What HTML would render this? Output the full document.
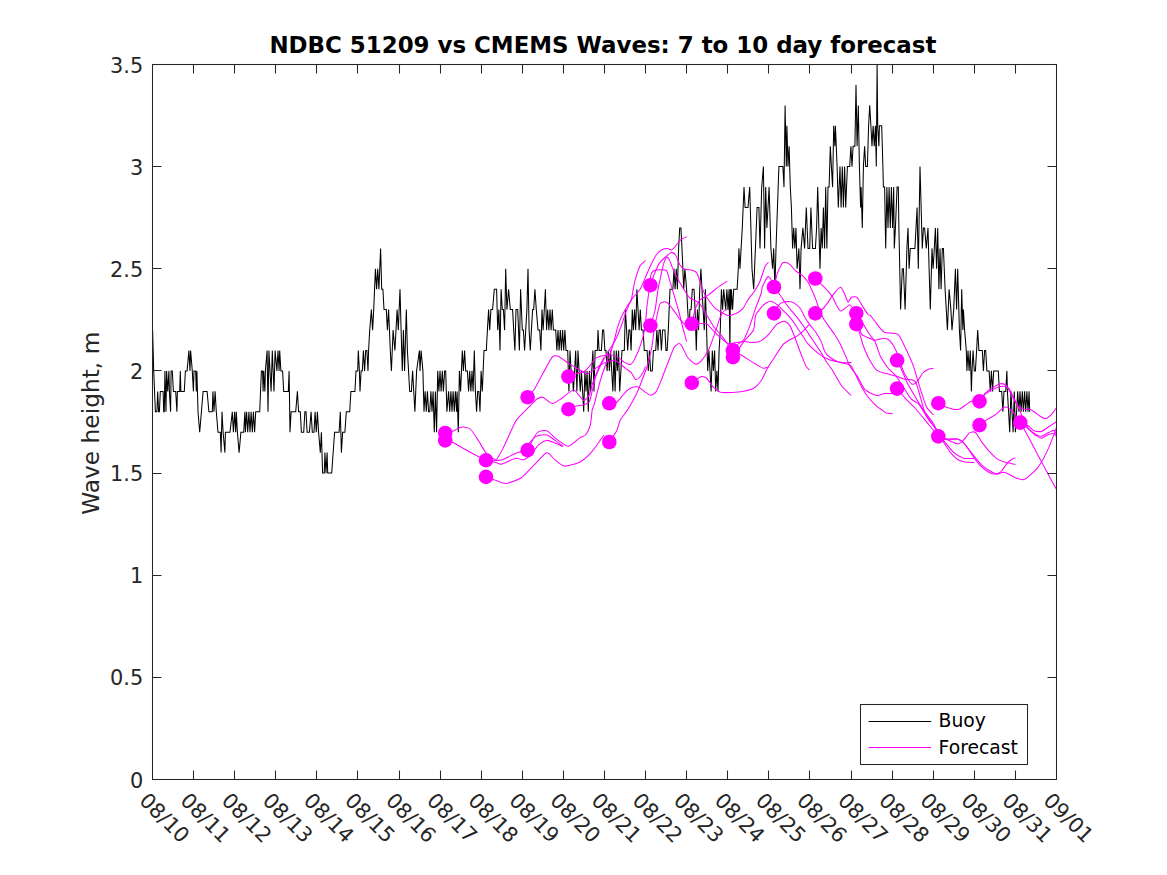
<!DOCTYPE html>
<html lang="en"><head><meta charset="utf-8"><title>NDBC 51209 vs CMEMS Waves: 7 to 10 day forecast</title><style>html,body{margin:0;padding:0;background:#fff;overflow:hidden}svg{display:block}</style></head><body>
<svg width="1167" height="875" viewBox="0 0 1167 875" font-family="'DejaVu Sans', 'Liberation Sans', sans-serif">
<rect width="1167" height="875" fill="#fff"/>
<clipPath id="pc"><rect x="152.5" y="64.5" width="904.0" height="715.0"/></clipPath>
<g clip-path="url(#pc)" fill="none" stroke-linejoin="round">
<path d="M152.6 330.1L153.7 370.9L155.4 411.8L156.9 411.8L157.7 391.4L158.6 411.8L159.4 411.8L160.3 391.4L163.1 391.4L163.7 411.8L164.3 411.8L164.9 370.9L166.0 411.8L166.6 370.9L167.7 391.4L168.9 370.9L169.4 391.4L170.6 411.8L171.1 370.9L172.3 370.9L173.4 391.4L175.7 391.4L176.9 411.8L177.4 391.4L179.7 391.4L180.3 370.9L180.9 391.4L184.3 391.4L185.4 370.9L187.1 370.9L188.9 350.5L190.0 370.9L190.6 350.5L192.3 370.9L193.4 391.4L194.0 370.9L195.7 370.9L196.3 391.4L196.9 370.9L198.0 411.8L199.7 432.2L201.4 411.8L203.1 391.4L207.1 391.4L208.9 411.8L212.3 411.8L212.9 391.4L214.0 411.8L215.1 391.4L216.3 411.8L218.0 432.2L220.3 432.2L221.1 452.6L222.0 411.8L223.1 432.2L224.9 452.6L225.4 432.2L230.0 432.2L232.3 411.8L233.4 432.2L234.6 411.8L235.7 432.2L236.3 411.8L237.4 432.2L239.1 452.6L240.9 432.2L243.7 432.2L244.9 411.8L245.4 432.2L246.6 411.8L247.7 432.2L248.9 411.8L250.0 432.2L251.1 411.8L252.3 432.2L253.4 411.8L254.6 432.2L255.7 411.8L259.7 411.8L261.4 370.9L262.6 370.9L263.1 391.4L263.7 370.9L264.9 391.4L265.4 370.9L267.1 350.5L268.0 411.8L268.9 350.5L270.0 370.9L271.1 391.4L272.3 350.5L274.0 391.4L275.1 350.5L276.9 370.9L278.0 350.5L279.1 370.9L279.7 350.5L280.9 370.9L282.6 370.9L283.7 391.4L288.3 391.4L289.1 370.9L290.0 432.2L291.1 411.8L295.7 411.8L297.4 391.4L298.6 411.8L300.3 411.8L301.4 432.2L303.7 432.2L304.9 411.8L306.0 411.8L307.1 432.2L309.4 432.2L311.1 411.8L312.3 432.2L314.0 432.2L315.1 411.8L316.3 432.2L317.4 411.8L318.6 432.2L320.3 452.6L321.4 432.2L322.6 473.1L324.3 473.1L324.9 452.6L326.0 473.1L327.1 452.6L327.7 473.1L331.7 473.1L334.6 432.2L339.1 432.2L340.3 411.8L341.4 452.6L342.6 432.2L344.9 432.2L346.3 411.8L349.7 411.8L350.9 391.4L354.9 391.4L356.0 370.9L357.7 370.9L358.3 350.5L359.4 370.9L360.0 391.4L361.1 370.9L362.3 370.9L363.4 350.5L364.6 370.9L365.7 350.5L366.9 350.5L368.0 370.9L368.6 350.5L369.7 330.1L371.4 309.6L372.6 330.1L373.7 309.6L375.4 268.8L376.6 289.2L377.7 268.8L378.9 289.2L380.6 248.4L381.7 289.2L382.9 289.2L384.0 309.6L386.3 309.6L387.4 330.1L388.6 309.6L390.3 350.5L391.4 370.9L393.1 330.1L394.9 350.5L396.0 330.1L397.1 309.6L398.3 330.1L400.0 289.2L401.1 330.1L402.3 370.9L403.4 330.1L404.6 370.9L406.3 309.6L407.4 350.5L409.7 391.4L411.4 391.4L412.6 370.9L414.9 411.8L416.6 370.9L419.4 350.5L420.0 370.9L421.1 350.5L422.9 370.9L424.0 411.8L425.1 391.4L426.3 411.8L427.4 391.4L428.6 411.8L429.7 411.8L430.9 391.4L432.0 411.8L433.1 391.4L434.3 432.2L435.4 391.4L436.6 432.2L437.7 370.9L438.9 391.4L440.0 370.9L441.1 391.4L442.3 370.9L443.4 391.4L444.6 370.9L445.7 370.9L446.9 411.8L448.6 391.4L449.7 411.8L450.9 391.4L452.0 411.8L453.1 391.4L454.3 411.8L455.4 391.4L456.6 411.8L457.1 391.4L458.3 432.2L459.4 370.9L460.6 391.4L462.3 350.5L463.4 370.9L464.6 350.5L465.7 370.9L467.4 370.9L468.6 391.4L469.7 370.9L470.9 391.4L472.0 370.9L473.1 391.4L474.3 350.5L475.4 391.4L476.6 411.8L477.7 391.4L478.9 391.4L480.0 411.8L481.1 370.9L482.3 391.4L484.0 350.5L486.3 350.5L487.4 330.1L488.6 309.6L489.7 330.1L490.9 309.6L492.6 309.6L494.3 289.2L496.6 289.2L497.7 330.1L498.9 309.6L500.0 350.5L501.1 289.2L502.3 309.6L503.4 309.6L504.6 330.1L505.7 268.8L506.9 309.6L508.6 289.2L510.3 309.6L512.6 309.6L513.7 330.1L514.9 350.5L516.0 309.6L517.7 309.6L519.4 350.5L520.6 289.2L522.3 330.1L523.4 330.1L524.6 350.5L525.7 330.1L526.9 309.6L528.0 268.8L529.1 330.1L530.3 350.5L531.4 330.1L532.6 309.6L533.7 309.6L534.9 289.2L536.3 309.6L538.0 330.1L539.7 330.1L540.9 350.5L542.0 309.6L543.1 330.1L544.3 309.6L545.4 289.2L546.6 330.1L547.7 309.6L548.9 330.1L550.0 309.6L551.1 330.1L552.3 309.6L553.4 330.1L555.7 330.1L556.9 350.5L558.0 330.1L559.1 350.5L560.3 330.1L561.4 350.5L562.6 330.1L563.7 350.5L564.9 330.1L566.0 350.5L567.7 350.5L568.9 391.4L570.0 350.5L571.1 370.9L572.3 370.9L573.4 391.4L574.6 370.9L575.7 350.5L576.9 391.4L578.0 350.5L579.1 370.9L580.3 391.4L581.4 370.9L582.6 391.4L583.7 411.8L584.9 370.9L586.0 391.4L587.1 370.9L588.3 411.8L589.4 370.9L590.6 391.4L591.7 370.9L592.9 350.5L594.0 391.4L595.1 350.5L597.4 350.5L598.0 330.1L599.1 350.5L601.4 350.5L602.6 330.1L603.7 330.1L604.9 350.5L606.0 350.5L607.1 370.9L608.3 350.5L609.4 370.9L610.6 350.5L611.7 370.9L612.9 391.4L614.0 350.5L615.1 391.4L616.3 350.5L617.4 370.9L618.6 350.5L619.7 391.4L620.9 370.9L622.0 350.5L624.3 350.5L625.4 309.6L626.6 330.1L627.7 350.5L628.9 330.1L630.0 330.1L631.1 350.5L632.3 309.6L633.4 330.1L634.6 309.6L635.7 330.1L636.9 289.2L638.0 309.6L639.1 330.1L640.3 309.6L641.4 330.1L643.1 330.1L644.3 350.5L647.1 350.5L648.3 370.9L649.4 350.5L650.6 370.9L652.3 370.9L653.4 350.5L655.7 350.5L656.9 330.1L658.0 350.5L659.1 330.1L660.3 330.1L661.4 350.5L662.6 330.1L664.9 330.1L666.0 350.5L667.1 350.5L668.3 330.1L670.0 289.2L672.9 289.2L674.0 268.8L675.1 289.2L676.3 268.8L677.4 289.2L678.6 248.4L679.7 227.9L680.9 227.9L682.0 248.4L683.7 289.2L684.9 268.8L686.6 289.2L687.7 309.6L688.9 330.1L690.0 309.6L691.1 309.6L692.3 289.2L694.0 289.2L695.1 309.6L696.3 350.5L697.4 309.6L698.6 330.1L699.7 289.2L700.9 268.8L702.0 289.2L703.1 309.6L704.3 330.1L705.4 289.2L706.6 330.1L707.7 370.9L708.9 350.5L710.0 370.9L711.1 391.4L712.3 350.5L713.4 370.9L714.6 350.5L715.7 391.4L716.9 370.9L718.0 391.4L719.1 350.5L720.3 330.1L721.4 289.2L722.6 309.6L723.7 289.2L725.7 309.6L726.9 289.2L728.0 309.6L729.1 289.2L729.9 350.5L730.4 289.2L730.9 309.6L731.4 289.2L732.6 309.6L733.7 289.2L737.1 289.2L738.3 268.8L738.9 248.4L740.0 268.8L741.1 248.4L742.3 227.9L744.0 187.1L745.1 207.5L748.0 207.5L749.7 187.1L750.9 227.9L752.0 268.8L753.7 289.2L755.4 248.4L757.1 207.5L758.9 207.5L760.0 248.4L761.7 187.1L763.4 166.6L764.6 248.4L765.7 187.1L766.9 227.9L768.0 207.5L769.1 187.1L770.9 248.4L772.6 268.8L773.7 248.4L774.9 289.2L776.0 248.4L778.9 166.6L782.9 166.6L784.0 187.1L785.1 105.4L786.3 166.6L786.9 125.8L788.0 166.6L789.1 146.2L790.3 187.1L791.4 207.5L792.6 248.4L793.7 227.9L794.9 248.4L796.0 227.9L797.1 268.8L798.9 248.4L800.0 289.2L801.1 248.4L802.9 227.9L804.6 248.4L806.3 207.5L808.0 248.4L809.7 248.4L810.9 207.5L812.6 248.4L815.4 248.4L816.6 227.9L817.7 187.1L818.9 227.9L820.0 268.8L821.1 227.9L822.3 248.4L823.4 207.5L824.6 248.4L825.7 187.1L826.9 248.4L828.0 187.1L829.1 187.1L830.3 146.2L831.4 166.6L832.6 187.1L833.7 125.8L834.9 146.2L835.4 125.8L837.1 166.6L838.3 207.5L840.0 166.6L841.1 207.5L842.3 166.6L843.4 207.5L844.6 166.6L845.7 207.5L847.4 166.6L849.7 166.6L850.9 146.2L852.0 166.6L853.1 146.2L854.9 146.2L856.0 84.9L857.1 146.2L858.3 105.4L859.4 166.6L860.6 207.5L861.1 187.1L862.3 227.9L863.4 166.6L864.6 146.2L865.7 166.6L867.4 166.6L868.6 125.8L869.7 105.4L870.9 125.8L872.0 146.2L873.1 125.8L874.3 146.2L875.4 125.8L876.3 166.6L877.1 64.5L877.7 125.8L878.9 146.2L879.4 125.8L881.7 125.8L882.9 166.6L883.4 187.1L884.6 187.1L885.7 248.4L886.9 187.1L888.0 227.9L889.1 187.1L890.3 227.9L891.4 187.1L892.6 227.9L893.7 187.1L894.3 248.4L895.4 227.9L897.1 187.1L898.3 187.1L898.9 227.9L900.6 309.6L902.3 268.8L903.4 268.8L905.1 309.6L906.9 248.4L908.0 227.9L909.1 268.8L910.3 248.4L914.9 248.4L916.0 227.9L917.1 207.5L918.3 268.8L920.0 166.6L921.7 227.9L922.3 248.4L923.4 227.9L924.6 227.9L926.3 248.4L928.0 227.9L929.1 268.8L930.3 309.6L932.0 248.4L933.1 268.8L934.3 248.4L935.4 227.9L936.6 268.8L937.7 227.9L938.9 289.2L940.0 248.4L941.1 289.2L942.3 248.4L943.4 248.4L945.1 289.2L946.3 309.6L947.4 330.1L949.1 289.2L950.9 309.6L952.0 330.1L953.7 309.6L955.4 268.8L956.6 309.6L957.7 268.8L959.4 330.1L960.6 350.5L961.7 289.2L962.9 330.1L963.4 309.6L964.6 330.1L966.3 350.5L966.9 370.9L968.0 350.5L969.1 370.9L970.3 350.5L971.4 391.4L972.0 370.9L973.1 350.5L974.3 370.9L975.4 370.9L976.6 350.5L977.7 330.1L978.9 350.5L982.3 350.5L983.4 370.9L984.6 350.5L985.7 350.5L986.9 370.9L989.1 370.9L990.3 391.4L991.4 370.9L992.6 391.4L993.7 370.9L998.3 370.9L999.4 391.4L1001.7 391.4L1002.9 411.8L1004.0 391.4L1005.7 391.4L1006.9 370.9L1007.4 391.4L1008.6 411.8L1009.7 432.2L1010.9 391.4L1012.0 411.8L1013.1 432.2L1014.3 391.4L1015.4 432.2L1016.6 411.8L1017.7 391.4L1018.9 411.8L1020.0 391.4L1021.1 411.8L1022.3 391.4L1023.4 411.8L1024.6 391.4L1025.7 411.8L1026.9 391.4L1028.0 411.8L1029.1 391.4L1029.7 411.8" stroke="#000" stroke-width="1.04" stroke-linejoin="miter"/>
<g stroke="#f0f" stroke-width="1.04">
<path d="M445.2 433.0C446.1 432.8 451.8 431.6 453.3 431.1C454.9 430.5 457.9 428.2 459.2 427.8C460.4 427.3 463.7 427.0 465.0 427.2C466.3 427.4 469.3 428.0 470.8 429.5C472.3 431.0 476.9 438.2 478.6 440.8C480.3 443.4 484.4 451.3 486.4 453.4C488.3 455.6 494.4 459.5 496.1 460.2C497.8 460.9 499.8 460.6 501.9 459.8C504.1 459.1 513.2 454.4 515.5 453.4C517.9 452.4 521.6 451.9 523.3 450.5C525.0 449.1 529.6 442.4 531.1 440.8C532.6 439.2 535.2 436.6 536.9 435.9C538.6 435.3 544.7 434.5 546.6 435.0C548.5 435.4 552.6 438.6 554.4 439.8C556.2 441.1 562.2 445.5 563.1 446.2"/>
<path d="M445.2 440.4C446.1 440.7 450.7 441.5 453.3 442.7C455.9 443.9 465.3 449.6 468.9 451.5C472.5 453.4 483.0 459.0 486.0 460.2C489.0 461.4 494.3 462.1 496.1 462.6C497.8 463.0 499.8 464.6 501.9 464.1C504.1 463.6 513.2 458.8 515.5 458.3C517.9 457.8 521.6 460.3 523.3 459.8C525.0 459.4 529.4 456.1 531.1 454.4C532.8 452.7 537.1 446.2 538.8 444.7C540.6 443.1 544.9 440.6 546.6 440.4C548.3 440.2 552.6 442.0 554.4 442.7C556.2 443.4 562.2 446.2 563.1 446.6"/>
<path d="M486.0 460.2C487.1 460.2 494.1 461.3 496.1 459.8C498.1 458.3 501.7 450.9 503.9 446.6C506.0 442.4 513.4 425.1 515.5 421.4C517.7 417.6 521.6 414.4 523.3 412.6C525.0 410.8 529.6 406.3 531.1 404.8C532.6 403.3 535.6 399.8 536.9 399.0C538.2 398.2 541.0 396.8 542.7 397.2C544.4 397.7 550.3 403.4 552.4 403.5C554.6 403.6 559.8 399.5 562.2 398.0C564.5 396.5 571.5 389.6 573.8 389.9C576.2 390.1 581.8 399.8 583.5 400.4C585.3 400.9 588.5 396.6 589.5 394.6C590.5 392.6 591.9 385.2 592.9 382.3C593.9 379.4 597.2 371.3 598.4 368.6C599.6 365.9 603.3 358.8 603.9 357.6"/>
<path d="M486.0 476.9C486.9 477.2 492.0 478.9 494.1 479.7C496.3 480.4 502.8 483.8 505.8 483.5C508.8 483.3 518.4 479.6 521.4 477.7C524.3 475.8 530.2 468.8 533.0 466.1C535.8 463.3 544.3 453.6 546.6 452.8C549.0 452.1 552.5 457.8 554.4 459.3C556.3 460.7 561.3 465.7 564.1 466.1C566.9 466.4 576.7 463.7 579.7 462.2C582.7 460.7 588.6 455.4 591.3 452.4C594.0 449.5 602.6 436.9 604.0 435.0"/>
<path d="M527.6 397.2C528.4 396.3 533.3 390.9 535.0 388.3C536.6 385.7 540.8 377.2 542.7 373.7C544.7 370.3 550.7 358.7 552.4 356.8C554.2 354.9 556.5 355.6 558.3 356.2C560.0 356.9 566.4 361.9 568.2 363.1C570.1 364.3 573.4 366.2 575.1 367.2C576.7 368.2 582.0 371.2 583.3 372.0C584.7 372.8 586.2 374.4 587.4 374.1C588.6 373.8 592.8 370.3 594.3 369.3C595.8 368.2 599.5 365.4 601.1 364.5C602.8 363.6 607.9 361.5 609.4 361.0C610.9 360.6 613.7 360.0 614.9 360.3C616.1 360.6 619.1 362.9 620.3 363.8C621.5 364.7 624.6 367.6 625.8 368.6C627.0 369.6 630.3 371.5 631.3 372.7C632.4 373.9 634.5 378.7 635.4 379.3C636.3 379.8 638.6 378.4 639.5 377.5C640.4 376.6 643.0 372.5 643.7 371.3C644.3 370.1 645.2 367.0 645.4 366.5"/>
<path d="M527.6 450.1C528.6 448.2 534.8 435.2 536.9 433.0C539.0 430.9 544.5 430.0 546.6 430.7C548.8 431.3 553.9 437.1 556.3 438.8C558.7 440.6 565.8 446.3 568.4 446.2C571.0 446.1 577.8 439.1 579.7 437.9C581.5 436.6 584.3 436.3 585.5 435.0C586.7 433.6 589.6 428.0 590.3 425.2C591.1 422.5 591.8 412.0 592.2 409.7C592.7 407.4 593.5 407.2 594.3 404.2C595.1 401.2 598.6 386.5 599.8 382.3C601.0 378.1 603.9 369.6 605.3 365.8C606.6 362.1 610.8 352.2 612.1 348.0C613.5 343.8 616.6 330.7 617.6 327.4C618.6 324.1 619.8 320.4 621.0 317.8C622.2 315.3 627.4 306.1 628.6 304.1C629.7 302.2 630.7 302.4 631.3 300.0C632.0 297.6 633.6 286.3 634.5 282.6C635.5 278.9 638.8 268.6 640.0 266.1C641.2 263.7 644.9 261.3 645.5 260.7"/>
<path d="M568.5 376.5C569.4 376.2 574.8 373.9 576.5 373.4C578.1 372.9 582.0 372.7 583.3 372.0C584.7 371.3 587.4 368.7 588.8 367.2C590.2 365.7 594.0 359.6 595.7 358.3C597.3 357.0 602.2 355.9 603.9 355.5C605.5 355.2 609.2 354.7 610.7 354.9C612.3 355.0 616.1 356.1 617.6 356.9C619.1 357.7 623.0 361.6 624.5 362.4C625.9 363.2 629.4 365.0 630.6 364.5C631.8 363.9 634.3 359.9 635.4 357.6C636.6 355.3 639.9 347.2 640.9 343.9C642.0 340.6 644.4 331.5 645.0 327.4C645.7 323.4 646.4 311.8 646.9 307.3C647.4 302.8 649.1 290.3 649.6 286.7C650.1 283.1 650.4 276.2 651.0 274.4C651.6 272.6 653.4 270.7 655.1 270.3C656.7 269.8 664.5 269.2 666.1 270.3C667.6 271.3 668.7 277.3 669.5 279.9C670.3 282.4 672.6 290.3 673.6 293.6C674.6 296.9 677.4 306.4 678.4 310.0C679.4 313.6 681.6 323.0 682.5 326.5C683.4 330.0 686.2 339.9 686.6 341.6"/>
<path d="M568.5 409.0C569.2 408.7 573.5 406.7 575.1 406.3C576.7 405.8 581.7 405.4 583.3 404.9C584.9 404.4 588.4 403.4 589.5 401.5C590.5 399.6 592.2 390.5 592.9 387.8C593.6 385.1 594.8 379.4 595.7 376.8C596.6 374.2 599.8 367.2 601.1 364.5C602.5 361.7 606.5 354.7 608.0 352.1C609.5 349.5 613.3 344.2 614.9 341.1C616.4 338.1 620.5 327.9 621.7 324.7C622.9 321.5 624.8 315.1 625.8 312.3C626.9 309.6 629.8 302.5 631.3 300.0C632.9 297.5 638.4 292.0 640.0 289.5C641.6 286.9 644.3 279.8 645.5 277.1C646.7 274.4 649.8 267.3 651.0 264.8C652.2 262.3 655.3 256.1 656.5 254.5C657.7 252.8 660.7 250.3 661.9 249.7C663.1 249.0 666.4 248.6 667.4 248.6C668.5 248.6 670.5 250.4 671.5 250.0C672.6 249.5 676.0 245.4 677.0 244.2C678.1 243.0 680.1 240.2 681.1 239.4C682.2 238.6 686.0 237.0 686.6 236.7"/>
<path d="M609.4 403.5C610.1 403.5 614.6 404.0 616.2 402.9C617.9 401.7 622.8 394.9 624.5 393.3C626.1 391.6 629.8 388.4 631.3 387.8C632.8 387.1 636.7 386.6 638.2 387.1C639.7 387.5 643.7 391.0 645.0 391.9C646.4 392.8 649.3 395.3 650.5 395.3C651.7 395.3 654.8 393.6 656.0 391.9C657.2 390.2 660.1 382.9 661.5 379.5C662.8 376.2 667.0 365.2 668.3 361.7C669.7 358.2 672.8 350.0 673.8 348.0C674.9 346.0 677.3 344.3 677.9 343.9C678.6 343.4 679.6 343.7 680.0 343.9C680.4 344.1 680.8 344.0 681.6 345.5C682.5 347.0 686.0 355.1 687.5 357.2C689.0 359.2 693.7 363.5 695.2 364.0C696.7 364.4 699.6 362.7 701.1 361.1C702.6 359.5 707.3 352.4 708.8 349.4C710.3 346.4 713.4 337.5 714.7 333.8C716.0 330.2 719.4 318.9 720.5 316.4C721.6 313.8 723.6 311.3 724.4 310.5C725.1 309.8 727.0 309.7 727.3 309.5"/>
<path d="M609.2 442.0C610.0 440.8 615.4 433.5 616.6 431.1C617.8 428.7 619.0 422.5 620.3 420.0C621.7 417.5 626.8 411.3 628.6 408.3C630.4 405.4 635.3 396.4 636.8 393.3C638.3 390.1 641.1 382.7 642.3 379.5C643.5 376.4 646.7 368.1 647.8 364.5C648.8 360.8 651.1 350.7 651.9 346.6C652.6 342.6 653.7 332.1 654.6 327.4C655.5 322.8 658.6 306.9 659.9 304.1C661.2 301.4 665.4 301.7 666.7 302.2C668.1 302.7 671.1 307.1 672.5 308.9C673.9 310.7 678.0 316.9 679.4 318.7C680.8 320.4 683.9 324.0 685.3 324.6C686.6 325.1 690.8 325.3 691.8 323.7C692.9 322.1 693.9 312.7 694.9 310.0C695.8 307.4 698.8 301.4 700.3 299.7C701.9 298.1 706.8 296.2 708.6 294.9C710.4 293.7 714.7 289.6 716.8 288.1C718.9 286.6 726.1 282.0 727.2 281.2"/>
<path d="M650.3 285.3C650.7 284.3 652.7 278.2 653.7 275.7C654.7 273.3 657.8 265.5 659.2 263.4C660.6 261.3 664.7 257.7 666.1 256.5C667.4 255.3 670.5 252.6 671.5 252.4C672.6 252.3 674.8 253.8 675.7 255.2C676.6 256.5 678.9 263.3 679.8 264.8C680.7 266.3 682.5 268.3 683.9 268.9C685.2 269.5 690.7 269.8 692.1 270.3C693.5 270.7 696.0 271.6 696.9 273.0C697.8 274.4 699.5 280.3 700.3 282.6C701.2 284.9 703.4 291.5 704.5 293.6C705.5 295.7 708.7 300.1 709.9 301.8C711.1 303.5 714.1 307.4 715.4 308.7C716.8 309.9 720.9 312.0 722.3 312.8C723.6 313.5 726.3 315.4 727.8 315.5C729.3 315.6 734.3 314.2 736.0 313.5C737.7 312.7 741.5 310.2 742.9 308.7C744.2 307.1 747.1 300.9 748.3 299.1C749.5 297.2 752.5 294.2 753.8 292.2C755.1 290.2 758.8 284.1 760.0 281.2C761.2 278.4 764.1 268.5 765.1 266.5C766.0 264.4 768.1 262.8 768.5 262.3"/>
<path d="M650.3 325.8C650.5 325.1 651.8 321.4 652.3 319.6C652.9 317.9 654.5 313.2 655.1 310.0C655.7 306.9 657.2 294.4 657.8 290.8C658.4 287.2 660.0 280.0 660.6 277.1C661.2 274.2 662.6 267.0 663.3 264.8C664.0 262.6 666.1 257.8 666.7 257.2C667.4 256.7 668.8 258.7 669.5 260.0C670.2 261.3 671.9 266.7 672.9 268.9C673.9 271.1 677.2 277.6 678.4 279.9C679.6 282.1 682.7 287.5 683.9 289.5C685.1 291.4 688.2 296.5 689.4 297.7C690.6 298.9 693.8 299.8 694.9 300.4C695.9 301.0 698.1 302.3 699.0 303.2C699.9 304.1 702.0 307.0 703.1 308.7C704.1 310.3 707.4 316.2 708.6 318.3C709.8 320.3 712.8 325.5 714.1 327.2C715.3 328.8 718.3 331.9 719.5 333.3C720.7 334.8 723.6 338.2 725.0 340.2C726.5 342.2 731.3 349.8 732.9 351.3C734.6 352.9 738.3 353.4 739.9 354.3C741.6 355.1 746.0 358.0 747.7 359.1C749.4 360.2 753.8 363.0 755.5 364.0C757.2 365.0 761.8 367.9 763.3 368.2C764.7 368.6 767.9 367.0 768.5 366.9"/>
<path d="M691.7 323.7C692.6 323.7 697.5 323.1 699.1 323.2C700.8 323.2 705.4 323.4 706.9 324.1C708.4 324.9 711.2 328.5 712.7 330.0C714.2 331.5 718.8 336.2 720.5 337.7C722.2 339.2 726.6 343.0 728.3 343.6C730.0 344.1 734.3 342.8 736.1 342.6C737.8 342.4 741.9 341.6 743.8 341.6C745.8 341.6 751.6 342.7 753.5 342.6C755.5 342.5 759.6 341.6 761.3 340.6C763.0 339.7 767.4 335.7 769.1 333.8C770.8 332.0 775.2 325.5 776.9 324.1C778.5 322.7 782.9 321.2 784.3 321.3C785.7 321.5 788.7 323.9 789.8 325.4C790.8 326.9 793.0 332.8 793.9 335.0C794.8 337.3 797.1 343.6 798.0 346.0C798.9 348.4 801.2 354.7 802.1 357.0C803.0 359.2 805.4 365.1 806.2 366.6C807.0 368.0 809.2 369.7 809.5 370.1"/>
<path d="M691.7 382.8C692.8 382.1 699.4 377.1 701.1 376.6C702.7 376.1 705.6 377.5 706.9 378.5C708.2 379.6 711.2 384.8 712.7 386.3C714.2 387.8 718.4 391.5 720.5 392.2C722.6 392.8 729.6 392.6 732.2 392.5C734.7 392.4 741.5 391.7 743.8 391.2C746.2 390.7 751.6 389.4 753.5 388.3C755.5 387.1 759.8 382.6 761.3 380.5C762.8 378.4 765.7 371.4 767.2 368.8C768.6 366.2 773.0 359.6 774.7 357.0C776.4 354.3 781.3 346.5 782.9 344.6C784.6 342.7 788.3 340.7 789.8 339.8C791.3 338.9 795.1 337.4 796.6 336.4C798.1 335.4 802.1 332.2 803.5 330.9C804.8 329.6 808.4 325.4 809.0 324.7"/>
<path d="M732.9 350.4C733.3 349.8 734.9 346.7 736.1 345.5C737.3 344.3 742.3 341.8 743.8 339.7C745.3 337.5 748.4 329.5 749.7 326.1C750.9 322.6 754.2 312.2 755.5 308.6C756.8 304.9 760.6 295.4 761.3 293.0C762.1 290.7 761.6 288.8 762.3 287.0C763.1 285.2 766.8 277.4 767.8 276.7C768.9 276.1 771.3 279.7 771.9 280.9C772.6 282.0 773.1 285.4 774.0 287.0C774.9 288.6 778.9 293.4 780.2 295.3C781.5 297.1 784.5 301.8 785.7 303.5C786.9 305.1 789.8 308.7 791.1 310.3C792.5 312.0 796.5 316.6 798.0 318.6C799.5 320.5 803.5 326.2 804.9 328.2C806.2 330.1 809.1 334.6 810.3 336.4C811.5 338.2 814.6 342.8 815.8 344.6C817.0 346.4 820.1 350.9 821.3 352.9C822.5 354.8 825.6 360.6 826.8 362.5C828.0 364.3 830.7 367.4 832.3 370.0C833.9 372.6 839.6 383.0 841.6 385.8C843.7 388.6 849.9 394.4 851.0 395.5"/>
<path d="M732.9 357.2C734.1 355.5 741.6 344.6 743.8 341.6C746.1 338.6 752.3 332.8 753.5 330.0C754.8 327.1 754.7 318.3 755.5 315.8C756.3 313.4 759.8 309.0 761.0 307.6C762.2 306.2 765.3 303.5 766.5 302.8C767.7 302.1 770.7 301.2 771.9 301.4C773.1 301.7 776.2 303.9 777.4 304.9C778.6 305.8 781.6 309.0 782.9 310.3C784.3 311.7 788.3 315.4 789.8 317.2C791.3 319.0 795.3 324.8 796.6 326.8C798.0 328.8 800.9 333.2 802.1 335.0C803.3 336.8 806.2 341.6 807.6 343.3C809.0 344.9 812.9 348.8 814.5 350.1C816.0 351.5 819.7 354.5 821.3 355.6C823.0 356.7 827.7 359.0 829.5 359.7C831.4 360.4 836.0 361.4 837.8 361.8C839.6 362.1 844.5 362.7 846.0 362.7C847.5 362.8 850.9 362.5 851.5 362.5"/>
<path d="M774.0 287.0C774.4 285.5 776.6 275.8 777.4 273.3C778.3 270.8 780.8 265.6 781.5 264.4C782.3 263.2 783.4 262.3 784.3 262.3C785.2 262.3 788.6 263.5 789.8 264.4C791.0 265.3 793.9 269.4 795.3 270.6C796.6 271.8 800.8 274.2 802.1 275.4C803.5 276.6 806.5 280.0 807.6 281.5C808.7 283.1 810.8 287.8 811.7 289.8C812.6 291.7 815.1 297.4 815.8 299.4C816.6 301.3 817.8 305.6 818.6 307.6C819.3 309.6 821.6 315.2 822.7 317.2C823.7 319.2 826.8 323.5 828.2 325.4C829.5 327.4 833.7 332.9 835.0 335.0C836.4 337.1 839.3 342.2 840.5 344.6C841.7 347.0 844.9 354.6 846.0 357.0C847.1 359.4 848.9 364.5 850.1 366.6C851.3 368.7 855.5 373.5 857.2 376.1C858.8 378.6 862.8 387.5 865.0 389.7C867.1 391.8 874.5 395.1 876.6 395.5C878.8 395.9 882.7 393.8 884.4 393.5C886.1 393.3 891.1 393.5 892.0 393.5"/>
<path d="M774.0 313.4C774.5 312.4 777.7 306.1 778.8 304.9C779.9 303.6 782.9 302.2 784.3 301.8C785.6 301.5 789.8 301.5 791.1 301.8C792.5 302.2 795.6 304.1 796.6 304.9C797.7 305.6 799.8 307.6 800.7 309.0C801.6 310.3 803.8 315.4 804.9 317.2C805.9 319.0 809.1 323.8 810.3 325.4C811.5 327.1 814.6 330.5 815.8 332.3C817.0 334.1 820.3 339.8 821.3 341.9C822.3 344.0 823.8 349.8 824.7 351.5C825.6 353.1 828.1 355.8 829.5 357.0C831.0 358.1 836.0 361.0 837.8 361.8C839.6 362.5 844.5 363.3 846.0 363.8C847.5 364.3 849.9 364.3 851.4 366.3C852.8 368.3 857.4 378.7 859.1 381.9C860.8 385.1 865.0 392.8 866.9 395.5C868.8 398.2 874.9 404.6 876.6 406.2C878.3 407.8 881.4 409.3 882.4 410.1C883.5 410.8 884.7 412.5 885.8 412.9C887.0 413.3 891.9 413.4 892.6 413.5"/>
<path d="M815.1 278.5C815.8 279.2 820.0 283.0 821.3 284.3C822.6 285.5 825.6 288.4 826.8 289.8C828.0 291.1 831.2 295.0 832.3 296.6C833.3 298.3 835.5 303.3 836.4 304.9C837.3 306.4 839.5 310.7 840.5 311.0C841.6 311.3 844.9 308.3 846.0 307.6C847.1 306.9 849.0 304.2 850.1 304.9C851.2 305.5 854.9 311.3 856.3 313.4C857.7 315.4 861.6 321.4 863.0 323.6C864.4 325.8 867.6 331.5 868.8 333.3C870.1 335.1 873.0 339.6 874.7 340.1C876.4 340.6 882.7 338.0 884.4 338.2C886.1 338.3 888.9 339.7 890.2 341.1C891.5 342.5 894.6 347.4 896.1 350.8C897.6 354.2 902.1 368.5 903.8 372.2C905.5 375.8 910.2 382.8 911.6 383.8C913.0 384.9 915.7 383.0 916.9 381.8C918.2 380.6 921.5 374.4 922.8 373.0C924.0 371.7 927.4 369.7 928.6 369.2C929.8 368.6 932.9 368.5 933.4 368.4"/>
<path d="M815.1 313.4C816.0 312.9 821.3 310.2 822.7 309.0C824.1 307.7 827.0 303.8 828.2 302.1C829.4 300.5 832.3 295.5 833.7 293.9C835.0 292.3 839.3 287.3 840.5 287.3C841.7 287.3 843.8 292.3 844.6 293.9C845.5 295.5 847.3 301.7 848.1 302.1C848.8 302.5 850.5 297.8 851.5 297.3C852.5 296.8 855.8 296.3 857.0 297.3C858.2 298.3 861.2 304.3 862.5 306.2C863.7 308.1 867.0 313.4 867.9 314.5C868.9 315.5 869.8 314.8 870.8 315.8C871.7 316.8 875.1 321.8 876.6 323.6C878.1 325.4 882.0 331.1 884.4 332.3C886.7 333.5 895.6 332.4 898.0 334.3C900.3 336.1 904.1 345.3 905.8 348.8C907.5 352.4 912.1 362.3 913.5 366.3C915.0 370.4 917.9 381.3 919.4 385.8C920.8 390.3 925.1 403.9 926.6 407.1C928.2 410.3 932.7 414.0 933.4 414.8"/>
<path d="M856.2 312.9C856.7 315.1 859.9 330.6 861.1 333.3C862.2 336.0 865.4 336.3 866.9 337.2C868.4 338.0 873.2 338.9 874.7 341.1C876.2 343.2 879.0 353.6 880.5 356.6C882.0 359.6 886.6 366.1 888.3 368.3C890.0 370.4 894.3 373.9 896.1 376.1C897.8 378.2 902.1 385.2 903.8 387.7C905.5 390.3 909.9 397.6 911.6 399.4C913.3 401.2 917.0 401.9 918.9 404.1C920.7 406.4 926.5 416.7 928.6 419.7C930.7 422.7 936.6 429.0 938.3 431.4C940.0 433.7 942.4 438.7 944.1 441.1C945.9 443.4 951.7 450.8 953.9 452.7C956.0 454.6 961.3 457.5 963.6 458.2C965.8 458.8 973.1 458.5 974.3 458.6"/>
<path d="M856.2 324.0C856.5 324.8 858.4 329.0 859.1 331.4C859.9 333.7 861.9 342.0 863.0 345.0C864.1 347.9 867.3 355.8 868.8 358.6C870.3 361.3 874.9 368.6 876.6 370.2C878.3 371.8 882.3 372.5 884.4 373.1C886.5 373.8 893.9 375.4 896.1 376.1C898.2 376.7 901.7 378.3 903.8 379.0C906.0 379.6 913.2 378.3 915.5 381.9C917.8 385.5 922.7 407.1 924.7 411.9C926.7 416.7 932.0 423.2 933.4 425.5C934.9 427.9 937.1 431.4 938.3 433.3C939.5 435.2 942.9 441.0 944.1 443.0C945.4 445.0 948.5 449.9 950.0 451.8C951.5 453.6 956.0 458.4 957.7 459.5C959.5 460.7 963.7 461.7 965.5 462.1C967.3 462.4 973.3 462.4 974.3 462.4"/>
<path d="M897.1 360.2C897.6 361.2 900.3 366.7 901.4 369.2C902.5 371.6 905.7 379.8 907.2 382.8C908.7 385.8 913.1 393.2 915.0 396.4C916.9 399.6 922.7 408.9 924.7 411.9C926.7 414.9 932.0 421.2 933.4 423.6C934.9 425.9 936.9 431.6 938.3 433.3C939.7 435.0 943.9 438.5 946.1 439.1C948.2 439.8 955.6 438.5 957.7 439.1C959.9 439.8 963.8 443.0 965.5 445.0C967.2 446.9 971.6 454.3 973.3 456.6C975.0 459.0 979.4 464.6 981.1 466.3C982.8 468.0 987.3 471.3 988.8 472.2C990.3 473.0 993.4 474.1 994.7 474.1C996.0 474.1 999.2 473.2 1000.5 472.2C1001.8 471.1 1005.1 465.8 1006.3 464.4C1007.6 462.9 1011.2 459.7 1012.2 459.0C1013.2 458.2 1015.1 458.1 1015.5 458.0"/>
<path d="M897.1 388.6C898.0 389.7 903.3 396.2 905.3 398.3C907.2 400.4 912.8 405.7 915.0 408.0C917.1 410.4 922.6 417.1 924.7 419.7C926.8 422.3 932.9 429.5 934.4 431.4C935.9 433.2 936.8 435.4 938.3 436.4C939.8 437.4 945.9 439.3 948.0 440.1C950.2 440.9 956.0 444.0 957.7 444.0C959.5 444.0 962.3 441.3 963.6 440.1C964.9 438.9 968.1 433.8 969.4 432.9C970.7 432.1 974.0 431.4 975.2 432.3C976.5 433.2 979.6 439.0 981.1 441.1C982.6 443.1 987.1 448.9 988.8 450.8C990.6 452.7 994.9 457.3 996.6 458.6C998.3 459.8 1002.3 461.4 1004.4 462.1C1006.5 462.7 1014.3 464.1 1015.5 464.4"/>
<path d="M938.3 403.4C939.2 403.8 944.4 406.4 946.1 407.1C947.8 407.7 952.4 409.2 953.9 409.4C955.4 409.6 958.4 409.5 959.7 409.0C961.0 408.5 964.2 406.0 965.5 405.1C966.8 404.3 969.8 401.6 971.4 401.2C972.9 400.8 978.0 402.3 979.5 401.4C981.0 400.6 983.5 395.0 985.0 393.4C986.4 391.9 991.0 388.7 992.7 387.6C994.4 386.6 999.0 383.9 1000.5 383.7C1002.0 383.5 1005.1 384.3 1006.3 385.7C1007.6 387.1 1010.9 394.1 1012.2 396.4C1013.4 398.6 1016.7 404.7 1018.0 406.1C1019.3 407.5 1022.3 408.6 1023.8 409.0C1025.3 409.4 1029.9 409.2 1031.6 410.0C1033.3 410.7 1037.9 414.8 1039.4 415.8C1040.9 416.8 1043.9 418.8 1045.2 418.7C1046.5 418.6 1049.8 416.0 1051.0 414.8C1052.3 413.7 1055.9 408.8 1056.5 408.0"/>
<path d="M938.3 436.4C939.2 436.7 943.9 438.8 946.1 439.1C948.2 439.4 955.8 438.7 957.7 439.1C959.7 439.6 962.1 441.5 963.6 443.0C965.1 444.5 969.4 450.4 971.4 452.7C973.3 455.1 979.1 462.5 981.1 464.4C983.0 466.3 987.1 469.2 988.8 470.2C990.6 471.3 994.9 473.9 996.6 474.1C998.3 474.3 1002.3 471.7 1004.4 472.2C1006.5 472.6 1013.9 477.2 1016.1 478.0C1018.2 478.8 1021.9 480.2 1023.8 479.6C1025.8 478.9 1031.6 474.0 1033.5 472.2C1035.5 470.3 1039.6 465.2 1041.3 462.4C1043.0 459.7 1047.4 450.7 1049.1 446.9C1050.8 443.1 1055.7 429.6 1056.5 427.5"/>
<path d="M979.5 401.4C980.1 400.6 983.7 395.6 985.0 394.4C986.2 393.2 989.1 391.4 990.8 390.5C992.5 389.7 998.6 387.0 1000.5 386.6C1002.4 386.3 1006.8 386.3 1008.3 387.6C1009.8 388.9 1012.8 395.6 1014.1 398.3C1015.4 401.0 1018.8 408.7 1020.3 411.9C1021.8 415.1 1026.0 425.0 1027.7 427.5C1029.4 429.9 1034.0 433.3 1035.5 434.3C1037.0 435.2 1039.8 436.4 1041.3 436.2C1042.8 436.0 1047.7 433.0 1049.1 432.3C1050.5 431.7 1053.1 430.1 1054.0 430.4C1054.8 430.7 1056.2 434.7 1056.5 435.2"/>
<path d="M979.5 425.1C980.5 424.4 987.0 420.0 988.8 418.7C990.7 417.5 995.1 415.0 996.6 413.9C998.1 412.7 1001.4 409.2 1002.4 408.4C1003.5 407.7 1005.3 406.8 1006.3 407.1C1007.4 407.3 1011.1 410.0 1012.2 410.9C1013.2 411.9 1015.2 414.5 1016.1 415.8C1017.0 417.1 1019.0 421.5 1020.3 422.6C1021.6 423.7 1026.3 424.7 1027.7 425.5C1029.2 426.4 1032.1 429.7 1033.5 430.4C1035.0 431.0 1039.6 431.8 1041.3 431.4C1043.0 430.9 1047.4 427.6 1049.1 426.5C1050.8 425.4 1055.7 422.2 1056.5 421.6"/>
<path d="M1020.3 422.6C1021.1 423.2 1026.0 427.0 1027.7 428.4C1029.4 429.8 1034.0 434.2 1035.5 435.2C1037.0 436.3 1040.0 438.2 1041.3 438.2C1042.6 438.2 1045.9 435.8 1047.2 435.2C1048.4 434.7 1052.0 433.2 1053.0 433.3C1054.0 433.4 1056.1 435.9 1056.5 436.2"/>
<path d="M1020.3 422.6C1021.6 424.8 1029.3 438.7 1031.6 443.0C1033.9 447.3 1039.4 457.8 1041.3 461.5C1043.2 465.1 1047.2 472.5 1049.1 476.1C1051.0 479.6 1057.7 491.6 1058.8 493.5"/>
</g>
<g fill="#f0f" stroke="none">
<circle cx="445.2" cy="433.0" r="7.3"/>
<circle cx="445.2" cy="440.4" r="7.3"/>
<circle cx="486.0" cy="460.2" r="7.3"/>
<circle cx="486.0" cy="476.9" r="7.3"/>
<circle cx="527.6" cy="397.2" r="7.3"/>
<circle cx="527.6" cy="450.1" r="7.3"/>
<circle cx="568.4" cy="376.6" r="7.3"/>
<circle cx="568.4" cy="409.2" r="7.3"/>
<circle cx="609.3" cy="403.3" r="7.3"/>
<circle cx="609.3" cy="442.0" r="7.3"/>
<circle cx="650.4" cy="285.2" r="7.3"/>
<circle cx="650.4" cy="325.6" r="7.3"/>
<circle cx="691.8" cy="323.8" r="7.3"/>
<circle cx="691.8" cy="382.8" r="7.3"/>
<circle cx="732.9" cy="350.4" r="7.3"/>
<circle cx="732.9" cy="357.2" r="7.3"/>
<circle cx="774.0" cy="287.0" r="7.3"/>
<circle cx="774.0" cy="313.4" r="7.3"/>
<circle cx="815.3" cy="278.5" r="7.3"/>
<circle cx="815.3" cy="313.4" r="7.3"/>
<circle cx="856.3" cy="313.2" r="7.3"/>
<circle cx="856.3" cy="324.1" r="7.3"/>
<circle cx="897.1" cy="360.3" r="7.3"/>
<circle cx="897.1" cy="388.6" r="7.3"/>
<circle cx="938.3" cy="403.2" r="7.3"/>
<circle cx="938.3" cy="436.4" r="7.3"/>
<circle cx="979.5" cy="401.4" r="7.3"/>
<circle cx="979.5" cy="425.1" r="7.3"/>
<circle cx="1020.3" cy="422.6" r="7.3"/>
</g></g>
<g stroke="#262626" stroke-width="1.04" fill="none" shape-rendering="auto">
<rect x="152.5" y="64.5" width="904.0" height="715.0"/>
<path d="M193.50 779.5v-9.0M193.50 64.5v9.0M234.50 779.5v-9.0M234.50 64.5v9.0M275.50 779.5v-9.0M275.50 64.5v9.0M316.50 779.5v-9.0M316.50 64.5v9.0M357.50 779.5v-9.0M357.50 64.5v9.0M399.50 779.5v-9.0M399.50 64.5v9.0M440.50 779.5v-9.0M440.50 64.5v9.0M481.50 779.5v-9.0M481.50 64.5v9.0M522.50 779.5v-9.0M522.50 64.5v9.0M563.50 779.5v-9.0M563.50 64.5v9.0M604.50 779.5v-9.0M604.50 64.5v9.0M645.50 779.5v-9.0M645.50 64.5v9.0M686.50 779.5v-9.0M686.50 64.5v9.0M727.50 779.5v-9.0M727.50 64.5v9.0M768.50 779.5v-9.0M768.50 64.5v9.0M809.50 779.5v-9.0M809.50 64.5v9.0M851.50 779.5v-9.0M851.50 64.5v9.0M892.50 779.5v-9.0M892.50 64.5v9.0M933.50 779.5v-9.0M933.50 64.5v9.0M974.50 779.5v-9.0M974.50 64.5v9.0M1015.50 779.5v-9.0M1015.50 64.5v9.0M152.5 677.50h9.0M1056.5 677.50h-9.0M152.5 575.50h9.0M1056.5 575.50h-9.0M152.5 473.50h9.0M1056.5 473.50h-9.0M152.5 370.50h9.0M1056.5 370.50h-9.0M152.5 268.50h9.0M1056.5 268.50h-9.0M152.5 166.50h9.0M1056.5 166.50h-9.0"/>
</g>
<g fill="#262626" font-size="20.83">
<text x="143.2" y="787.50" text-anchor="end">0</text>
<text x="143.2" y="685.36" text-anchor="end">0.5</text>
<text x="143.2" y="583.21" text-anchor="end">1</text>
<text x="143.2" y="481.07" text-anchor="end">1.5</text>
<text x="143.2" y="378.93" text-anchor="end">2</text>
<text x="143.2" y="276.79" text-anchor="end">2.5</text>
<text x="143.2" y="174.64" text-anchor="end">3</text>
<text x="143.2" y="72.50" text-anchor="end">3.5</text>
<text transform="translate(138.20 801.80) rotate(45)" x="0" y="0">08/10</text>
<text transform="translate(179.29 801.80) rotate(45)" x="0" y="0">08/11</text>
<text transform="translate(220.38 801.80) rotate(45)" x="0" y="0">08/12</text>
<text transform="translate(261.47 801.80) rotate(45)" x="0" y="0">08/13</text>
<text transform="translate(302.56 801.80) rotate(45)" x="0" y="0">08/14</text>
<text transform="translate(343.65 801.80) rotate(45)" x="0" y="0">08/15</text>
<text transform="translate(384.75 801.80) rotate(45)" x="0" y="0">08/16</text>
<text transform="translate(425.84 801.80) rotate(45)" x="0" y="0">08/17</text>
<text transform="translate(466.93 801.80) rotate(45)" x="0" y="0">08/18</text>
<text transform="translate(508.02 801.80) rotate(45)" x="0" y="0">08/19</text>
<text transform="translate(549.11 801.80) rotate(45)" x="0" y="0">08/20</text>
<text transform="translate(590.20 801.80) rotate(45)" x="0" y="0">08/21</text>
<text transform="translate(631.29 801.80) rotate(45)" x="0" y="0">08/22</text>
<text transform="translate(672.38 801.80) rotate(45)" x="0" y="0">08/23</text>
<text transform="translate(713.47 801.80) rotate(45)" x="0" y="0">08/24</text>
<text transform="translate(754.56 801.80) rotate(45)" x="0" y="0">08/25</text>
<text transform="translate(795.65 801.80) rotate(45)" x="0" y="0">08/26</text>
<text transform="translate(836.75 801.80) rotate(45)" x="0" y="0">08/27</text>
<text transform="translate(877.84 801.80) rotate(45)" x="0" y="0">08/28</text>
<text transform="translate(918.93 801.80) rotate(45)" x="0" y="0">08/29</text>
<text transform="translate(960.02 801.80) rotate(45)" x="0" y="0">08/30</text>
<text transform="translate(1001.11 801.80) rotate(45)" x="0" y="0">08/31</text>
<text transform="translate(1042.20 801.80) rotate(45)" x="0" y="0">09/01</text>
</g>
<text x="602.90" y="53.2" text-anchor="middle" font-size="22.92" font-weight="bold" fill="#000">NDBC 51209 vs CMEMS Waves: 7 to 10 day forecast</text>
<text transform="translate(98.6 423.20) rotate(-90)" text-anchor="middle" font-size="23.3" fill="#262626">Wave height, m</text>
<rect x="860.5" y="704.5" width="167" height="60" fill="#fff" stroke="#262626" stroke-width="1.04"/>
<path d="M868.6 721.5H931.2" stroke="#000" stroke-width="1.04"/>
<path d="M868.6 747.5H931.2" stroke="#f0f" stroke-width="1.04"/>
<g fill="#000" font-size="18.75"><text x="938.6" y="727">Buoy</text><text x="938.6" y="754.2">Forecast</text></g>
</svg>
</body></html>
